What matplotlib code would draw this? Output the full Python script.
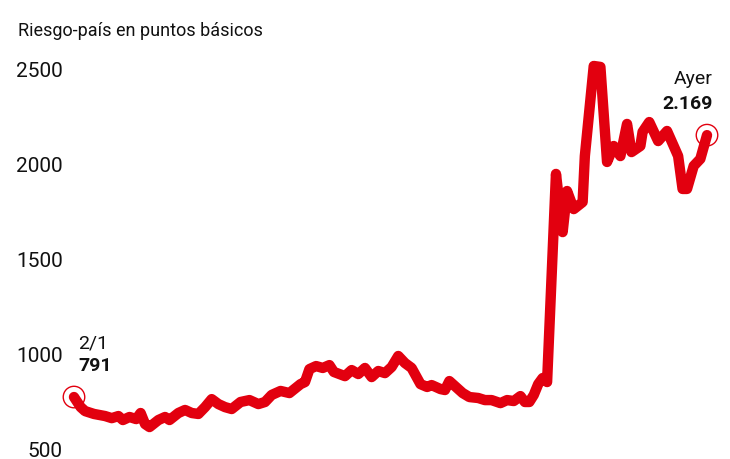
import matplotlib
matplotlib.use("Agg")
import matplotlib.pyplot as plt
import matplotlib.transforms as mtransforms

# dias desde el 2/1 y riesgo-pais en puntos basicos
dias = [0, 3, 5, 9, 14, 17, 20, 22, 25, 28, 30, 32, 34, 38, 41, 43, 47, 50, 53, 56,
        59, 62, 65, 68, 71, 75, 79, 83, 86, 89, 93, 97, 102, 104, 106, 109, 112, 115, 117, 122,
        125, 128, 131, 134, 137, 140, 143, 146, 149, 152, 156, 159, 161, 165, 167, 169, 171, 175, 178, 182,
        185, 188, 192, 195, 198, 201, 203, 205, 207, 209, 211, 213, 217, 220, 222, 225, 229, 230, 234, 237,
        240, 243, 246, 249, 251, 255, 256, 259, 263, 267, 270, 272, 274, 276, 279, 282, 285]
puntos = [791, 738, 717, 702, 691, 680, 691, 670, 686, 675, 707, 649, 633, 670, 686, 670, 707, 723, 707, 702,
          738, 780, 754, 738, 728, 765, 775, 754, 765, 802, 823, 812, 859, 870, 938, 954, 944, 959, 923, 901,
          933, 912, 944, 896, 928, 917, 949, 1007, 970, 944, 859, 844, 854, 833, 828, 875, 854, 812, 791, 786,
          775, 775, 759, 775, 770, 796, 765, 765, 802, 859, 891, 870, 1965, 1659, 1875, 1780, 1817, 2059, 2533, 2528,
          2028, 2112, 2059, 2228, 2080, 2112, 2186, 2238, 2138, 2191, 2112, 2059, 1886, 1886, 2007, 2044, 2169]

ticks_y = [500, 1000, 1500, 2000, 2500]
titulo = "Riesgo-país en puntos básicos"
inicio_fecha, inicio_valor = "2/1", "791"
fin_fecha, fin_valor = "Ayer", "2.169"

rojo = "#e2000f"
plt.rcParams['font.family'] = ['Roboto', 'DejaVu Sans']

fig = plt.figure(figsize=(7.3, 4.6), dpi=100)
ax = fig.add_axes([64 / 730, 0, 653 / 730, 420 / 460])
ax.set_xlim(-4.5, 289.5)
ax.set_ylim(465, 2675)

ax.plot(dias, puntos, color=rojo, lw=7.5, solid_joinstyle="round",
        solid_capstyle="round", clip_on=False, zorder=2)
ax.scatter([dias[0], dias[-1]], [puntos[0], puntos[-1]], s=240, facecolor="none",
           edgecolor=rojo, lw=1.0, zorder=3, clip_on=False)

for s in ax.spines.values():
    s.set_visible(False)
ax.set_xticks([])
ax.set_yticks(ticks_y)
ax.set_yticklabels([str(t) for t in ticks_y], fontsize=15, color="#111111")
ax.tick_params(axis="y", length=0, pad=1)
sube = mtransforms.ScaledTranslation(0, 4 / 100, fig.dpi_scale_trans)
for lab in ax.get_yticklabels():
    lab.set_transform(lab.get_transform() + sube)

fig.text(18 / 730, 1 - 31 / 460, titulo, fontsize=13, color="#111111", va="center")

ax.annotate(inicio_fecha, (dias[0], puntos[0]), xytext=(4, 55), textcoords="offset pixels",
            fontsize=14, color="#111111", ha="left", va="center")
ax.annotate(inicio_valor, (dias[0], puntos[0]), xytext=(4, 32), textcoords="offset pixels",
            fontsize=14, fontweight="bold", color="#111111", ha="left", va="center")
ax.annotate(fin_fecha, (dias[-1], puntos[-1]), xytext=(6, 57), textcoords="offset pixels",
            fontsize=14, color="#111111", ha="right", va="center")
ax.annotate(fin_valor, (dias[-1], puntos[-1]), xytext=(6, 32), textcoords="offset pixels",
            fontsize=14, fontweight="bold", color="#111111", ha="right", va="center")

fig.savefig("out.png", dpi=100)
